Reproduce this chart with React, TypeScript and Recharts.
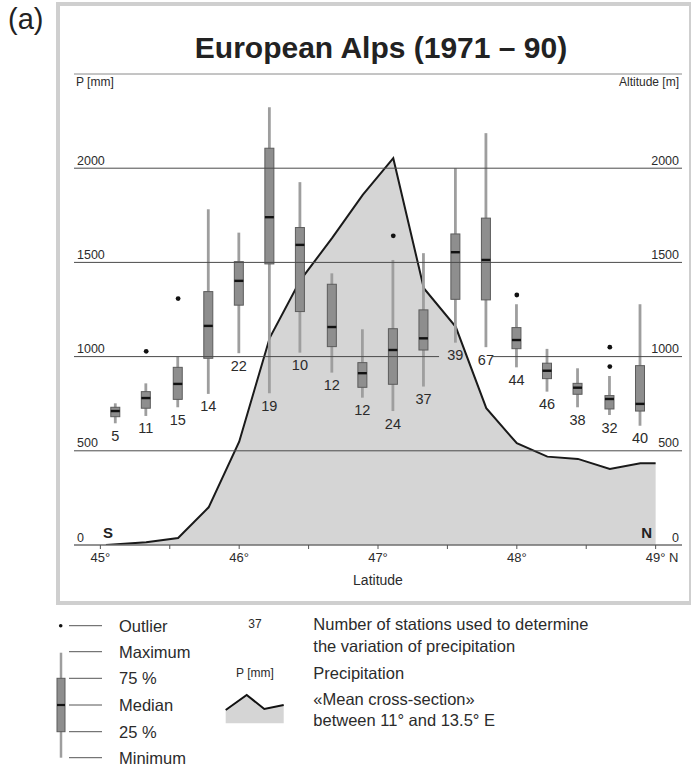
import React from 'react';
import { ComposedChart, Area, Bar, Scatter, XAxis, YAxis, ReferenceLine } from 'recharts';

// station groups (box plots), latitude in degrees N
const stationLat = [45.11, 45.33, 45.56, 45.78, 46.0, 46.22, 46.44, 46.67, 46.89, 47.11, 47.33, 47.56, 47.78, 48.0, 48.22, 48.44, 48.67, 48.89];
const stationCount = [5, 11, 15, 14, 22, 19, 10, 12, 12, 24, 37, 39, 67, 44, 46, 38, 32, 40];
const pMin = [646, 685, 731, 802, 1018, 805, 1021, 915, 782, 711, 841, 1074, 1050, 943, 814, 731, 690, 633];
const pQ1 = [681, 726, 773, 991, 1273, 1492, 1239, 1053, 837, 853, 1035, 1304, 1301, 1042, 883, 800, 722, 711];
const pMedian = [711, 780, 855, 1163, 1402, 1740, 1593, 1157, 912, 1035, 1097, 1554, 1513, 1088, 925, 835, 775, 749];
const pQ3 = [731, 814, 943, 1345, 1504, 2106, 1685, 1384, 968, 1148, 1248, 1651, 1735, 1154, 965, 858, 793, 952];
const pMax = [752, 858, 1000, 1782, 1658, 2324, 1926, 1442, 1145, 1513, 1549, 2000, 2186, 1278, 1041, 938, 897, 1278];

const outlierLat = [45.33, 45.56, 47.11, 48.0, 48.67, 48.67];
const outlierP = [1028, 1308, 1641, 1327, 1050, 947];

// mean cross-section between 11° and 13.5° E
const profileLat = [45.04, 45.33, 45.56, 45.78, 46.0, 46.22, 46.44, 46.67, 46.89, 47.11, 47.33, 47.56, 47.78, 48.0, 48.22, 48.44, 48.67, 48.89, 49.0];
const profileAlt = [0, 14, 37, 200, 548, 1100, 1405, 1630, 1858, 2053, 1363, 1158, 726, 540, 469, 457, 403, 434, 434];

const latTicks = [45, 45.5, 46, 46.5, 47, 47.5, 48, 48.5, 49];
const fullGrid = [500, 1500, 2000];
const latDomain: [number, number] = [44.81, 49.19];
const valueDomain: [number, number] = [0, 2500];
// the 1000 line is broken around the "39" and "67" labels
const brokenGrid = 1000;
const gapFrom = 47.44;
const gapTo = 47.82;

const boxes = stationLat.map((lat, i) => ({
  lat,
  count: stationCount[i],
  min: pMin[i],
  q1: pQ1[i],
  median: pMedian[i],
  q3: pQ3[i],
  max: pMax[i],
}));
const outliers = outlierLat.map((lat, i) => ({ lat, p: outlierP[i] }));
const profile = profileLat.map((lat, i) => ({ lat, alt: profileAlt[i] }));

const FONT = '"Liberation Sans", Arial, sans-serif';
const TXT = '#2b2b2b';
const GRID = '#4a4a4a';
const FRAME = '#8a8a8a';
const BOX_FILL = '#8e8e8e';
const BOX_EDGE = '#5c5c5c';
const WHISKER = '#9e9e9e';

const BoxShape = (props: any) => {
  const { x, y, width, height, payload } = props;
  if (!payload || height == null) return null;
  const cx = x + width / 2;
  const { min, q1, median, q3, max, count } = payload;
  const px = (v: number) => y + ((max - v) / (max - min)) * height;
  return (
    <g>
      <line x1={cx} x2={cx} y1={y} y2={y + height} stroke={WHISKER} strokeWidth={2.8} />
      <rect
        x={x}
        y={px(q3)}
        width={width}
        height={px(q1) - px(q3)}
        fill={BOX_FILL}
        stroke={BOX_EDGE}
        strokeWidth={1}
      />
      <line x1={x} x2={x + width} y1={px(median)} y2={px(median)} stroke="#111" strokeWidth={2.4} />
      <text x={cx} y={y + height + 17.5} textAnchor="middle" fontSize={14.5} fontFamily={FONT} fill={TXT}>
        {count}
      </text>
    </g>
  );
};

// value labels sitting just above each horizontal line, at the left and/or right frame
const gridLabel = (text: string, left: boolean, right: boolean) => (p: any) => {
  const vb = p.viewBox || {};
  const { x, y, width } = vb;
  return (
    <g>
      {left && (
        <text x={x + 3} y={y - 3.5} textAnchor="start" fontSize={12.5} fontFamily={FONT} fill={TXT}>
          {text}
        </text>
      )}
      {right && (
        <text x={x + width - 3} y={y - 3.5} textAnchor="end" fontSize={12.5} fontFamily={FONT} fill={TXT}>
          {text}
        </text>
      )}
    </g>
  );
};

const LatTick = ({ x, y, payload }: any) => {
  const v = payload.value;
  if (!Number.isInteger(v)) return <g />;
  if (v === 49) {
    return (
      <text x={x - 9.8} y={y + 11} textAnchor="start" fontSize={13} fontFamily={FONT} fill={TXT}>
        {`${v}° N`}
      </text>
    );
  }
  return (
    <text x={x} y={y + 11} textAnchor="middle" fontSize={13} fontFamily={FONT} fill={TXT}>
      {`${v}°`}
    </text>
  );
};

const legendRows = ['Outlier', 'Maximum', '75 %', 'Median', '25 %', 'Minimum'];
const legendRowY = [625.7, 651.7, 678.3, 705, 731.7, 757.7];

export default function App() {
  return (
    <div style={{ position: 'absolute', left: 0, top: 0, width: 691, height: 766, overflow: 'hidden', background: '#fff' }}>
      <ComposedChart
        width={691}
        height={766}
        data={boxes}
        margin={{ top: 74, right: 9, bottom: 191, left: 74 }}
      >
        <XAxis
          dataKey="lat"
          type="number"
          domain={latDomain}
          allowDataOverflow
          ticks={latTicks}
          interval={0}
          tickSize={4}
          tickLine={{ stroke: '#555' }}
          axisLine={{ stroke: '#6e6e6e' }}
          tick={<LatTick />}
          height={30}
        />
        <YAxis
          yAxisId="p"
          orientation="left"
          domain={valueDomain}
          allowDataOverflow
          width={0}
          tick={false}
          tickLine={false}
          axisLine={{ stroke: FRAME }}
        />
        <YAxis
          yAxisId="alt"
          orientation="right"
          domain={valueDomain}
          allowDataOverflow
          width={0}
          tick={false}
          tickLine={false}
          axisLine={{ stroke: FRAME }}
        />
        <Area
          yAxisId="alt"
          data={profile}
          dataKey="alt"
          type="linear"
          stroke="#1a1a1a"
          strokeWidth={2}
          fill="#d5d5d5"
          fillOpacity={1}
          dot={false}
          activeDot={false}
          isAnimationActive={false}
        />
        <ReferenceLine yAxisId="p" y={0} stroke="#6e6e6e" strokeWidth={1} label={gridLabel('0', true, true)} />
        {fullGrid.map((v) => (
          <ReferenceLine
            key={v}
            yAxisId="p"
            y={v}
            stroke={GRID}
            strokeWidth={1}
            label={gridLabel(String(v), true, true)}
          />
        ))}
        <ReferenceLine
          yAxisId="p"
          segment={[{ x: latDomain[0], y: brokenGrid }, { x: gapFrom, y: brokenGrid }]}
          stroke={GRID}
          strokeWidth={1}
          label={gridLabel(String(brokenGrid), true, false)}
        />
        <ReferenceLine
          yAxisId="p"
          segment={[{ x: gapTo, y: brokenGrid }, { x: latDomain[1], y: brokenGrid }]}
          stroke={GRID}
          strokeWidth={1}
          label={gridLabel(String(brokenGrid), false, true)}
        />
        <ReferenceLine yAxisId="p" y={valueDomain[1]} stroke={FRAME} strokeWidth={1} />
        <Bar
          yAxisId="p"
          dataKey={(d: any) => [d.min, d.max]}
          barSize={9}
          shape={(p: any) => <BoxShape {...p} />}
          isAnimationActive={false}
        />
        <Scatter
          yAxisId="p"
          data={outliers}
          dataKey="p"
          shape={(p: any) => <circle cx={p.cx} cy={p.cy} r={2.4} fill="#111" />}
          isAnimationActive={false}
        />
      </ComposedChart>

      <svg
        width={691}
        height={766}
        style={{ position: 'absolute', left: 0, top: 0, pointerEvents: 'none' }}
        fontFamily={FONT}
      >
        <rect x={58} y={4} width={633} height={599} fill="none" stroke="#cfcfcf" strokeWidth={4} />
        <text x={8} y={29} fontSize={29} fill="#222">(a)</text>
        <text x={381} y={58} fontSize={30} fontWeight="bold" textAnchor="middle" fill="#222">
          European Alps (1971 – 90)
        </text>
        <text x={76} y={86} fontSize={12} fill={TXT}>P [mm]</text>
        <text x={679} y={86} fontSize={12} fill={TXT} textAnchor="end">Altitude [m]</text>
        <text x={103} y={538} fontSize={15} fontWeight="bold" fill="#222">S</text>
        <text x={652} y={538} fontSize={15} fontWeight="bold" fill="#222" textAnchor="end">N</text>
        <text x={378} y={585} fontSize={14} textAnchor="middle" fill={TXT}>Latitude</text>

        {/* legend */}
        <circle cx={60.7} cy={625.7} r={1.8} fill="#111" />
        <line x1={61} x2={61} y1={652.7} y2={757.7} stroke={WHISKER} strokeWidth={2.5} />
        <rect x={57} y={678.3} width={8} height={53.4} fill={BOX_FILL} stroke={BOX_EDGE} strokeWidth={1} />
        <line x1={57} x2={65} y1={705} y2={705} stroke="#111" strokeWidth={2.2} />
        {legendRows.map((label, i) => (
          <g key={label}>
            <line x1={69} x2={102} y1={legendRowY[i]} y2={legendRowY[i]} stroke="#555" strokeWidth={1} />
            <text x={119} y={legendRowY[i] + 6} fontSize={16.5} fill={TXT}>{label}</text>
          </g>
        ))}
        <text x={255} y={628.3} fontSize={12} textAnchor="middle" fill={TXT}>37</text>
        <text x={255} y={677} fontSize={12} textAnchor="middle" fill={TXT}>P [mm]</text>
        <polygon
          points="225.7,710 246.7,695 264.3,709 283.7,705 283.7,723.3 225.7,723.3"
          fill="#d5d5d5"
        />
        <polyline points="225.7,710 246.7,695 264.3,709 283.7,705" fill="none" stroke="#111" strokeWidth={2} />
        <text x={313.3} y={630} fontSize={16.5} fill={TXT}>Number of stations used to determine</text>
        <text x={313.3} y={651.6} fontSize={16.5} fill={TXT}>the variation of precipitation</text>
        <text x={313.3} y={678.6} fontSize={16.5} fill={TXT}>Precipitation</text>
        <text x={313.3} y={705.2} fontSize={16.5} fill={TXT}>«Mean cross-section»</text>
        <text x={313.3} y={725.9} fontSize={16.5} fill={TXT}>between 11° and 13.5° E</text>
      </svg>
    </div>
  );
}
